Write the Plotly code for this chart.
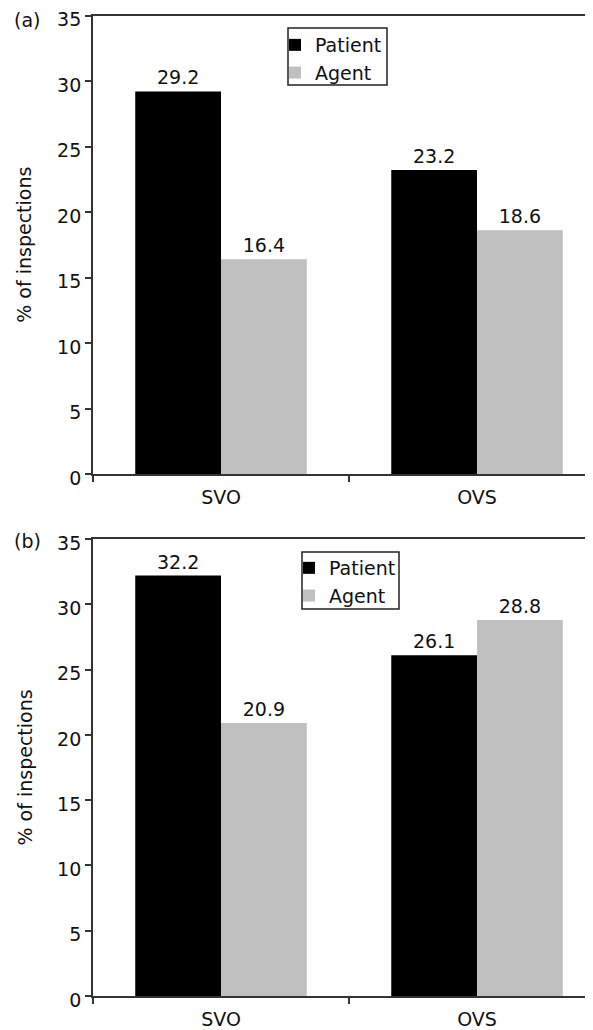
import plotly.graph_objects as go

categories = ["SVO", "OVS"]
patient_a = [29.2, 23.2]
agent_a = [16.4, 18.6]
patient_b = [32.2, 26.1]
agent_b = [20.9, 28.8]
series_names = ["Patient", "Agent"]
panel_labels = ["(a)", "(b)"]
y_title = "% of inspections"
y_ticks = [0, 5, 10, 15, 20, 25, 30, 35]

# the page body has an 8px margin, so the figure is drawn 8px in from the corner
OFF = 8
W, H = 593 - OFF, 1030 - OFF
FONT = "DejaVu Sans"
FS = 19
colors = ["#000000", "#c0c0c0"]
AX = "#333333"


def px(x):
    return (x - OFF) / W


def py(y):
    return 1 - (y - OFF) / H


fig = go.Figure()

panels = [
    (patient_a, agent_a, "x", "y", "legend"),
    (patient_b, agent_b, "x2", "y2", "legend2"),
]
for pat, ag, xa, ya, lg in panels:
    for name, vals, col in zip(series_names, [pat, ag], colors):
        fig.add_trace(go.Bar(
            x=categories, y=vals, name=name, marker_color=col,
            marker_line_width=0,
            text=[f"{v:.1f}" for v in vals], textposition="outside",
            textfont=dict(family=FONT, size=FS, color="#111"),
            cliponaxis=False, xaxis=xa, yaxis=ya, legend=lg,
        ))


def xaxis(anchor):
    return dict(
        type="category", range=[-0.5, 1.453], domain=[px(93), 1],
        anchor=anchor, showline=True, linecolor=AX, linewidth=1.8,
        mirror=True, ticks="outside", tickson="boundaries", ticklen=6,
        tickcolor=AX, tickwidth=1.8, showgrid=False, automargin=False,
        ticklabelstandoff=5, ticklabeloverflow="allow",
        tickfont=dict(family=FONT, size=FS, color="#111"),
    )


def yaxis(anchor, top_px, bot_px):
    return dict(
        range=[0, 35], domain=[py(bot_px), py(top_px)],
        anchor=anchor, showline=True, linecolor=AX, linewidth=1.8,
        ticks="outside", ticklen=6, tickcolor=AX, tickwidth=1.8,
        tickvals=y_ticks, showgrid=False, zeroline=False, automargin=False,
        ticklabeloverflow="allow", ticklabelshift=4,
        tickfont=dict(family=FONT, size=FS, color="#111"),
    )


def legend(left_px, top_px):
    return dict(x=px(left_px), y=py(top_px), xanchor="left", yanchor="top",
                bgcolor="rgba(0,0,0,0)", borderwidth=0,
                font=dict(family=FONT, size=FS, color="#111"),
                tracegroupgap=0, itemwidth=30)


fig.update_layout(
    width=W, height=H, margin=dict(l=0, r=0, t=0, b=0),
    plot_bgcolor="white", paper_bgcolor="white",
    barmode="group", bargap=0.33, bargroupgap=0,
    font=dict(family=FONT, size=FS, color="#111"),
    xaxis=xaxis("y"), yaxis=yaxis("x", 15.5, 474),
    xaxis2=xaxis("y2"), yaxis2=yaxis("x2", 539, 996),
    legend=legend(275, 26),
    legend2=legend(289, 549),
    showlegend=True,
)

# legend frames
for x0, y0, x1, y1 in [(288, 28, 387, 85), (302, 552, 399, 609)]:
    fig.add_shape(type="rect", xref="paper", yref="paper",
                  x0=px(x0), x1=px(x1), y0=py(y1), y1=py(y0),
                  line=dict(color="#222", width=1.5), layer="above")

for lab, ypx in zip(panel_labels, [20, 541]):
    fig.add_annotation(text=lab, x=px(12), y=py(ypx), xref="paper", yref="paper",
                       xanchor="left", yanchor="middle", showarrow=False,
                       font=dict(family=FONT, size=FS, color="#111"))

# y-axis titles
for ya in ["y", "y2"]:
    fig.add_annotation(text=y_title, x=px(24), y=0.5, xref="paper",
                       yref=f"{ya} domain", textangle=-90, xanchor="center",
                       yanchor="middle", showarrow=False,
                       font=dict(family=FONT, size=FS, color="#111"))

fig.write_html("out.html")
